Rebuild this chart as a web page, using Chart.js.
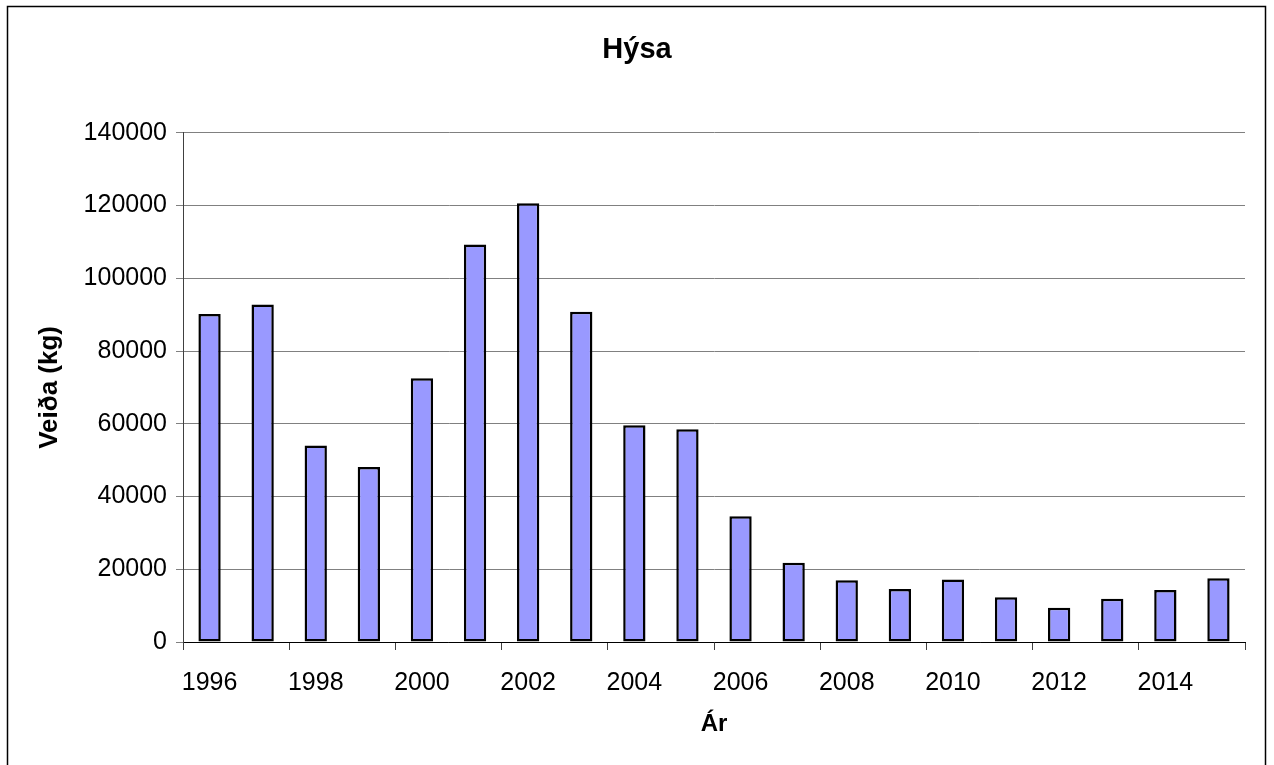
<!DOCTYPE html>
<html>
<head>
<meta charset="utf-8">
<script src="https://cdn.jsdelivr.net/npm/chart.js@4/dist/chart.umd.min.js"></script>
<style>
html,body{margin:0;padding:0;background:#fff;}
canvas{display:block;}
</style>
</head>
<body>
<canvas id="c" width="1274" height="765"></canvas>
<script>
const years = ['1996','1997','1998','1999','2000','2001','2002','2003','2004','2005','2006','2007','2008','2009','2010','2011','2012','2013','2014','2015'];
const catchKg = [90200, 92800, 54000, 48100, 72500, 109300, 120600, 90800, 59600, 58500, 34600, 21800, 17000, 14600, 17200, 12300, 9400, 11900, 14300, 17500];
const yMin = 0;
const yMax = 140000;
const yStep = 20000;
const chartTitle = 'Hýsa';
const xTitle = 'Ár';
const yTitle = 'Veiða (kg)';

const FONT = "Arial, 'Liberation Sans', sans-serif";

const framePlugin = {
  id: 'frame',
  beforeDraw(chart) {
    const ctx = chart.ctx;
    ctx.save();
    ctx.fillStyle = '#fff';
    ctx.fillRect(0, 0, chart.width, chart.height);
    ctx.strokeStyle = '#000';
    ctx.lineWidth = 1.5;
    ctx.strokeRect(7.5, 6.5, 1258, 820);
    ctx.restore();
  }
};

new Chart(document.getElementById('c'), {
  type: 'bar',
  data: {
    labels: years,
    datasets: [{
      data: catchKg,
      backgroundColor: '#9999FF',
      borderColor: '#000000',
      borderWidth: 2.5,
      borderSkipped: false,
      barPercentage: 0.42,
      categoryPercentage: 1.0
    }]
  },
  options: {
    responsive: false,
    animation: false,
    devicePixelRatio: 1,
    layout: { padding: { top: 0, left: 8, right: 8, bottom: 0 } },
    plugins: {
      legend: { display: false },
      tooltip: { enabled: false },
      title: {
        display: true,
        text: chartTitle,
        color: '#000',
        font: { family: FONT, size: 29, weight: 'bold', lineHeight: 1.2 },
        padding: { top: 33, bottom: 65 }
      }
    },
    scales: {
      x: {
        type: 'category',
        offset: true,
        afterFit(scale) { scale.height = 765 - 642; },
        grid: {
          offset: true,
          drawOnChartArea: false,
          drawTicks: true,
          tickLength: 8,
          lineWidth: 1,
          color: (ctx) => (ctx.index === undefined || ctx.index % 2 === 0) ? '#404040' : 'rgba(0,0,0,0)'
        },
        border: { display: true, color: '#000', width: 1 },
        ticks: {
          autoSkip: false,
          maxRotation: 0,
          minRotation: 0,
          padding: 18,
          color: '#000',
          font: { family: FONT, size: 25 },
          callback: function(value, index) { return index % 2 === 0 ? this.getLabelForValue(value) : ''; }
        },
        title: {
          display: true,
          text: xTitle,
          color: '#000',
          font: { family: FONT, size: 24, weight: 'bold', lineHeight: 1.2 },
          padding: { top: 0, bottom: 26 }
        }
      },
      y: {
        min: yMin,
        max: yMax,
        afterFit(scale) { scale.width = 183 - 8; },
        grid: {
          color: '#808080',
          lineWidth: 1,
          drawTicks: true,
          tickLength: 7
        },
        border: { display: true, color: '#404040', width: 1 },
        ticks: {
          stepSize: yStep,
          padding: 9,
          color: '#000',
          font: { family: FONT, size: 25 },
          callback: (v) => String(v)
        },
        title: {
          display: true,
          text: yTitle,
          color: '#000',
          font: { family: FONT, size: 26, weight: 'bold', lineHeight: 1.2 },
          padding: { top: 26, bottom: 0 }
        }
      },
      yRight: {
        position: 'right',
        min: yMin,
        max: yMax,
        afterFit(scale) { scale.width = 1266 - 1245; },
        grid: { display: false, drawOnChartArea: false, drawTicks: false },
        border: { display: false },
        ticks: { display: false },
        title: { display: false }
      }
    }
  },
  plugins: [framePlugin]
});
</script>
</body>
</html>
